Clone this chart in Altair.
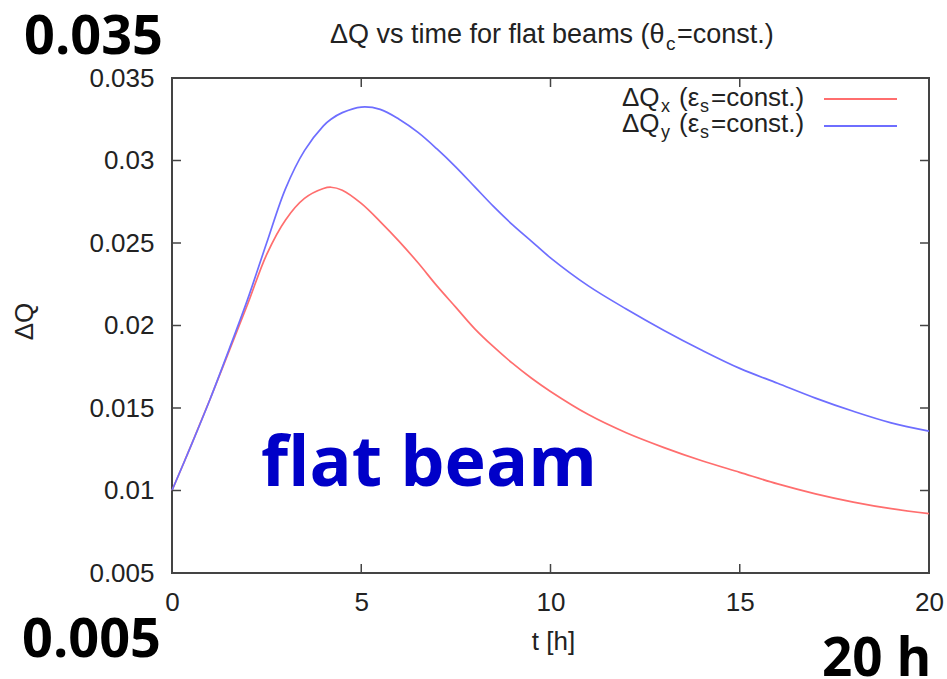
import altair as alt
import pandas as pd

# ---- data ----
T = [0, 0.5, 1.0, 1.5, 2.0, 2.5, 3.0, 3.5, 4.0, 4.2, 4.5, 5.0, 5.5, 6.0, 6.5, 7.0,
     7.5, 8.0, 8.5, 9.0, 9.5, 10, 11, 12, 13, 14, 15, 16, 17, 18, 19, 20]
DQX = [0.0100, 0.0127, 0.0155, 0.0184, 0.0213, 0.0243, 0.0264, 0.0277, 0.0283, 0.02838,
       0.0282, 0.0274, 0.0263, 0.0251, 0.0238, 0.0224, 0.0211, 0.0198, 0.0187, 0.0177,
       0.0168, 0.0160, 0.0146, 0.0135, 0.0126, 0.0118, 0.0111, 0.0104, 0.0098, 0.0093,
       0.0089, 0.0086]
DQY = [0.0100, 0.0127, 0.0155, 0.0185, 0.0216, 0.0250, 0.0283, 0.0306, 0.0321, 0.0325,
       0.0329, 0.03324, 0.0331, 0.0325, 0.0317, 0.0307, 0.0296, 0.0284, 0.0272, 0.0261,
       0.0251, 0.0241, 0.0224, 0.0210, 0.0197, 0.0185, 0.0174, 0.0165, 0.0156, 0.0148,
       0.0141, 0.0136]
SERIES = ["ΔQx", "ΔQy"]
SUBS = ["x", "y"]
COLORS = ["#ff6e6e", "#6e6eff"]
X_TICKS = [0, 5, 10, 15, 20]
Y_TICKS = [0.005, 0.01, 0.015, 0.02, 0.025, 0.03, 0.035]

W, H = 757, 495
FONT = "Liberation Sans"
BIG = "Open Sans"
INK = "#222222"
FRAME = "#444444"

df = pd.DataFrame({
    "t": T + T,
    "dq": DQX + DQY,
    "series": [SERIES[0]] * len(T) + [SERIES[1]] * len(T),
})

x_scale = alt.Scale(domain=[0, 20], nice=False, zero=False)
y_scale = alt.Scale(domain=[0.005, 0.035], nice=False, zero=False)
c_scale = alt.Scale(domain=SERIES, range=COLORS)

X_AX = alt.Axis(
    values=X_TICKS, title="t [h]", grid=False, domain=False, ticks=False, tickSize=0,
    labelFont=FONT, labelFontSize=26, labelColor=INK, labelPadding=16,
    labelFlush=False, labelOverlap=False,
    titleFont=FONT, titleFontSize=26, titleFontWeight="normal", titleColor=INK,
    titleX=381, titleY=68, titleAlign="center", titleBaseline="middle")
Y_AX = alt.Axis(
    values=Y_TICKS, format="~g", title="ΔQ", grid=False, domain=False, ticks=False,
    tickSize=0, labelFont=FONT, labelFontSize=26, labelColor=INK, labelPadding=18,
    labelFlush=False, labelOverlap=False,
    titleFont=FONT, titleFontSize=26, titleFontWeight="normal", titleColor=INK,
    titleX=-148, titleY=243, titleAlign="center", titleBaseline="middle", titleAngle=270)


def X(field="t"):
    return alt.X(f"{field}:Q", scale=x_scale, axis=X_AX)


def Y(field="dq"):
    return alt.Y(f"{field}:Q", scale=y_scale, axis=Y_AX)


lines = alt.Chart(df).mark_line(strokeWidth=1.7, interpolate="catmull-rom").encode(
    x=X(), y=Y(),
    color=alt.Color("series:N", scale=c_scale, legend=None),
)

xt = pd.DataFrame({"t": X_TICKS})
yt = pd.DataFrame({"dq": Y_TICKS})
TL = 9
tick_kw = dict(color=FRAME, strokeWidth=1.5)
xb = alt.Chart(xt).mark_rule(**tick_kw).encode(x=X(), y=alt.value(H), y2=alt.value(H - TL))
xtop = alt.Chart(xt).mark_rule(**tick_kw).encode(x=X(), y=alt.value(0), y2=alt.value(TL))
yl = alt.Chart(yt).mark_rule(**tick_kw).encode(y=Y(), x=alt.value(0), x2=alt.value(TL))
yr = alt.Chart(yt).mark_rule(**tick_kw).encode(y=Y(), x=alt.value(W), x2=alt.value(W - TL))


def txt(s, x, y, size, font=FONT, weight="normal", color=INK, align="left",
        baseline="alphabetic"):
    return alt.Chart(pd.DataFrame({"s": [s]})).mark_text(
        align=align, baseline=baseline, font=font, fontSize=size,
        fontWeight=weight, color=color).encode(
        text="s:N", x=alt.value(x), y=alt.value(y))


OX, OY = 172, 78  # plot origin in page pixels

layers = [lines, xb, xtop, yl, yr]

# title with subscript
layers += [
    txt("ΔQ vs time for flat beams (θ", 330 - OX, 43 - OY, 27),
    txt("c", 666 - OX, 50 - OY, 19),
    txt("=const.)", 677 - OX, 43 - OY, 27),
]

# legend
for i, (s, sub) in enumerate(zip(SERIES, SUBS)):
    base = 106 + 26 * i
    ly = 99 + 27 * i
    layers += [
        txt("ΔQ", 622 - OX, base - OY, 26),
        txt(sub, 661 - OX, base + 6 - OY, 18),
        txt("(ε", 679 - OX, base - OY, 26),
        txt("s", 700 - OX, base + 6 - OY, 18),
        txt("=const.)", 711 - OX, base - OY, 26),
        alt.Chart(pd.DataFrame({"series": [s]})).mark_rule(strokeWidth=1.8).encode(
            x=alt.value(824 - OX), x2=alt.value(897 - OX), y=alt.value(ly - OY),
            color=alt.Color("series:N", scale=c_scale, legend=None)),
    ]

# slide annotations
layers += [
    txt("0.035", 24 - OX, 54 - OY, 54, font=BIG, weight="bold", color="#000000"),
    txt("0.005", 22 - OX, 657 - OY, 54, font=BIG, weight="bold", color="#000000"),
    txt("20 h", 822 - OX, 676 - OY, 53, font=BIG, weight="bold", color="#000000"),
    txt("flat beam", 261 - OX, 486 - OY, 70, font=BIG, weight="bold", color="#0000c8"),
]

chart = alt.layer(*layers).properties(
    width=W, height=H,
    autosize=alt.AutoSizeParams(type="none"),
    padding={"left": OX, "top": OY, "right": 947 - OX - W, "bottom": 679 - OY - H},
    background="white",
).configure_view(stroke=FRAME, strokeWidth=2)

chart.save("out.html", embed_options={"renderer": "svg", "actions": False})
